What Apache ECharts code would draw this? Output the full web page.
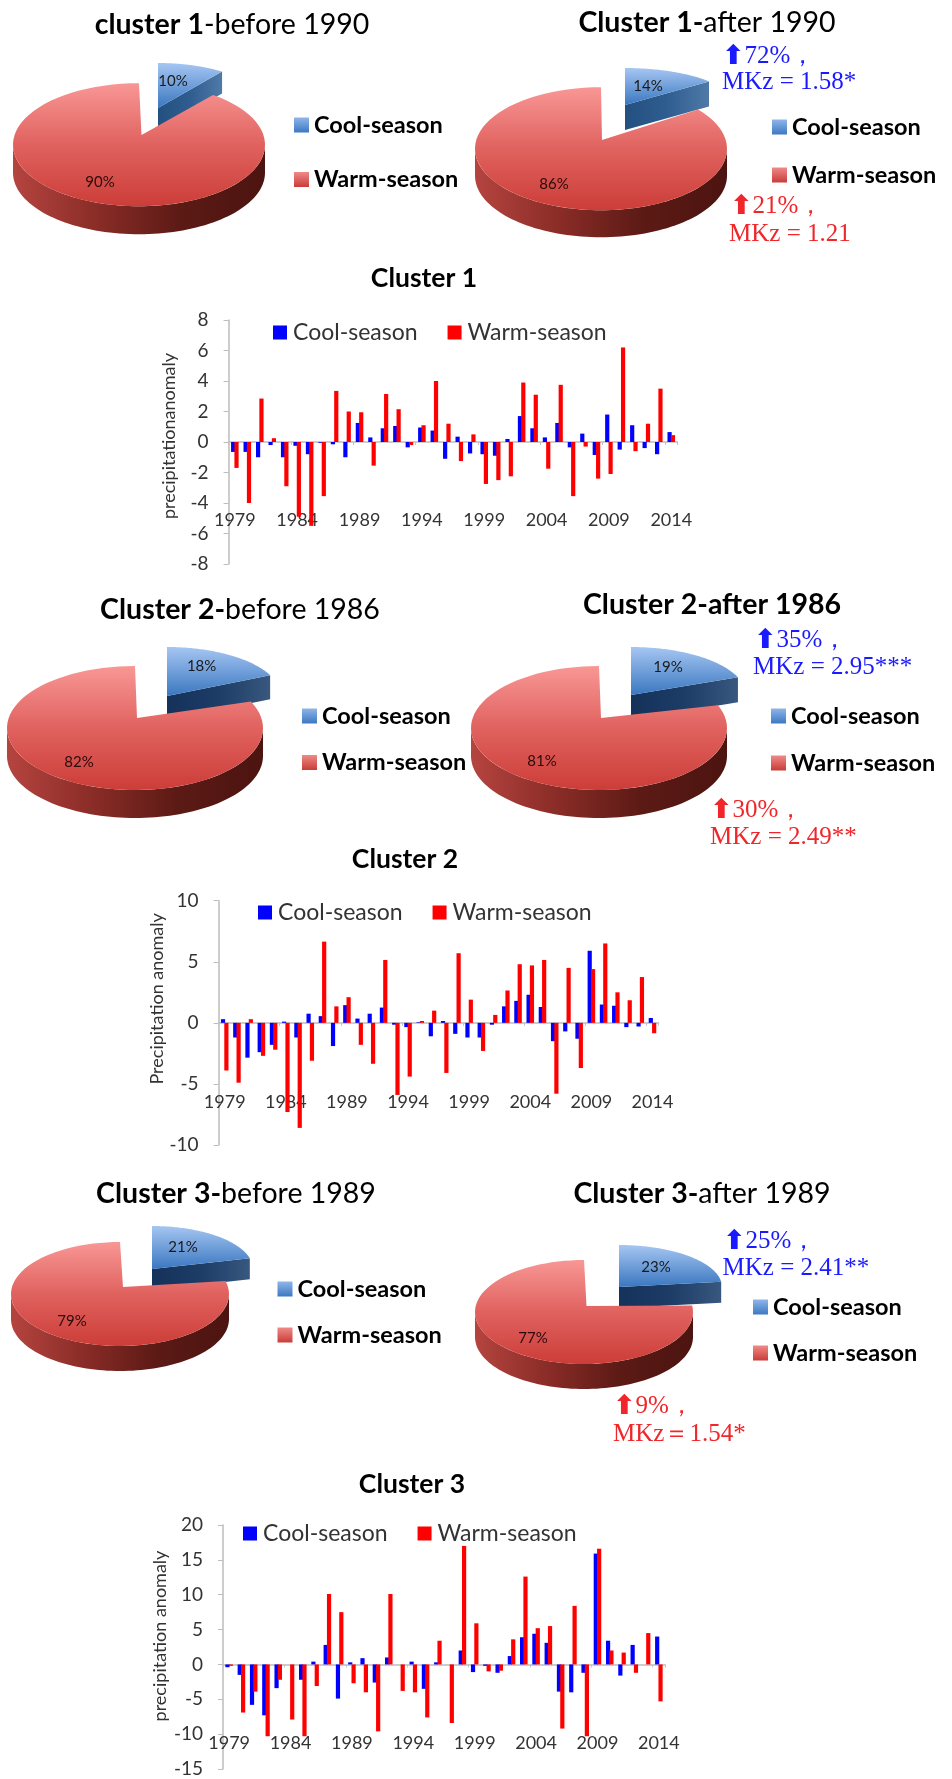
<!DOCTYPE html>
<html><head><meta charset="utf-8">
<style>html,body{margin:0;padding:0;background:#fff}#c{width:952px;height:1779px}</style>
<script src="https://cdn.jsdelivr.net/npm/echarts@6/dist/echarts.min.js"></script>
</head><body><div id="c"></div>
<script>
// ---------- data ----------
const years = [1979,1980,1981,1982,1983,1984,1985,1986,1987,1988,1989,1990,1991,1992,1993,1994,1995,1996,1997,1998,1999,2000,2001,2002,2003,2004,2005,2006,2007,2008,2009,2010,2011,2012,2013,2014].map(String);
const c1Cool = [-0.65,-0.65,-1.0,-0.2,-1.0,-0.25,-0.8,-0.05,-0.15,-1.0,1.25,0.3,0.9,1.05,-0.35,0.95,0.75,-1.1,0.35,-0.75,-0.8,-0.9,0.2,1.7,0.9,0.3,1.25,-0.35,0.55,-0.85,1.8,-0.5,1.1,-0.4,-0.8,0.65];
const c1Warm = [-1.7,-4.0,2.85,0.25,-2.9,-4.9,-5.5,-3.55,3.35,2.0,1.95,-1.55,3.15,2.15,-0.2,1.1,4.0,1.2,-1.25,0.5,-2.75,-2.5,-2.25,3.9,3.1,-1.75,3.75,-3.55,-0.3,-2.4,-2.1,6.2,-0.6,1.2,3.5,0.45];
const c2Cool = [0.3,-1.2,-2.85,-2.4,-1.8,0.1,-1.2,0.75,0.55,-1.9,1.45,0.35,0.75,1.25,-0.15,-0.35,0.05,-1.1,0.15,-0.9,-1.2,-1.2,-0.15,1.35,1.8,2.3,1.3,-1.5,-0.7,-1.3,5.9,1.5,1.4,-0.35,-0.3,0.4];
const c2Warm = [-3.9,-4.9,0.3,-2.7,-2.2,-7.3,-8.6,-3.1,6.65,1.35,2.1,-1.8,-3.35,5.15,-5.9,-4.4,0.15,1.0,-4.1,5.7,1.9,-2.3,0.65,2.65,4.8,4.7,5.15,-5.8,4.5,-3.7,4.4,6.5,2.5,1.85,3.75,-0.85];
const c3Cool = [-0.4,-1.5,-5.8,-7.3,-3.4,0,-2.2,0.4,2.8,-4.9,0.3,0.9,-2.6,1,0,0.4,-3.5,0.3,0,2,-1.1,-0.2,-1.2,1.2,3.9,4.4,3.1,-3.9,-4,-1.2,15.9,3.4,-1.6,2.8,0,4];
const c3Warm = [-0.2,-6.9,-3.9,-10.3,-2.2,-7.9,-10.3,-3.1,10.1,7.5,-2.7,-4,-9.6,10.1,-3.8,-4,-7.6,3.4,-8.4,17,5.9,-1,-0.9,3.6,12.6,5.2,5.5,-9.2,8.4,-10.3,16.6,2,1.7,-1.2,4.5,-5.3];
const coolShare = [10,14,18,19,21,23];
const warmShare = [90,86,82,81,79,77];
const COOL = 'Cool-season', WARM = 'Warm-season';

const FONT = 'Lato', SERIF = '"Liberation Serif"';
const G = (x2,y2,stops)=>new echarts.graphic.LinearGradient(0,0,x2,y2,stops.map((c,i)=>({offset:i/(stops.length-1),color:c})));

// ---------- layout ----------
const barCharts = [
 {title:'Cluster 1',tx:424,ty:278,cool:c1Cool,warm:c1Warm,left:228.6,top:320,right:677.5,bottom:564,min:-8,max:8,step:2,margin:-53,name:'precipitationanomaly',nameGap:50,namePad:[0,0,0,12],lx:273,ly:321},
 {title:'Cluster 2',tx:405,ty:859,cool:c2Cool,warm:c2Warm,left:218.6,top:900.7,right:658.6,bottom:1145,min:-10,max:10,step:5,margin:-52,name:'Precipitation anomaly',nameGap:52,namePad:[0,0,0,48],lx:258,ly:901},
 {title:'Cluster 3',tx:412,ty:1484,cool:c3Cool,warm:c3Warm,left:223,top:1525,right:665,bottom:1769,min:-15,max:20,step:5,margin:-35,name:'precipitation anomaly',nameGap:54,namePad:[0,0,0,22],lx:243,ly:1522}
];
const lightSide=['#23507f','#2f5d90','#4f7aa8'], darkSide=['#14325a','#1d3c66','#38587f'];
const pies = [
 {cx:139,cy:144.7,rx:126,ry:61.5,d:28,ax:141.5,ay:135,bx:158,by:108,brx:109,bry:45,bd:22,bs:lightSide,cl:[173,81],wl:[100,182],leg:[294,116,51.5]},
 {cx:601,cy:148.7,rx:126,ry:61.5,d:27,ax:602,ay:140,bx:625,by:105,brx:109,bry:37,bd:25,bs:lightSide,cl:[648,86],wl:[554,184],leg:[772,118,45]},
 {cx:135,cy:728,rx:128,ry:62,d:28,ax:137,ay:718,bx:167,by:696,brx:114,bry:49,bd:24,bs:darkSide,cl:[201.6,666],wl:[79,762],leg:[302,707,43.5]},
 {cx:599,cy:728,rx:128,ry:62,d:28,ax:601,ay:718,bx:631,by:695,brx:115,bry:48,bd:25,bs:darkSide,cl:[668,667],wl:[542,761],leg:[771,707,44]},
 {cx:120,cy:1294,rx:109,ry:52,d:25,ax:123,ay:1287,bx:152,by:1269,brx:101,bry:43,bd:21,bs:darkSide,cl:[183,1247],wl:[72,1321],leg:[277.5,1280,43]},
 {cx:584,cy:1312,rx:109,ry:52,d:25,ax:586.5,ay:1306,bx:619,by:1287,brx:103,bry:42,bd:21,bs:darkSide,cl:[656,1267],wl:[533,1338],leg:[753,1298,43]}
];
const pieTitles = [
 {x:232,y:25,b:'cluster 1',n:'-before 1990'},
 {x:707,y:23,b:'Cluster 1-',n:'after 1990'},
 {x:240,y:610,b:'Cluster 2-',n:'before 1986'},
 {x:712,y:605,b:'Cluster 2-after 1986',n:''},
 {x:236,y:1194,b:'Cluster 3-',n:'before 1989'},
 {x:702,y:1194,b:'Cluster 3-',n:'after 1989'}
];
const notes = [
 {x:722,y:58,color:'#1a1aff',a:'72%，'},{x:722,y:85,color:'#1a1aff',t:'MKz = 1.58*'},
 {x:730,y:208,color:'#f0262a',a:'21%，'},{x:729,y:237,color:'#f0262a',t:'MKz = 1.21'},
 {x:754,y:642,color:'#1a1aff',a:'35%，'},{x:753,y:670,color:'#1a1aff',t:'MKz = 2.95***'},
 {x:710,y:812,color:'#f0262a',a:'30%，'},{x:710,y:840,color:'#f0262a',t:'MKz = 2.49**'},
 {x:723,y:1243,color:'#1a1aff',a:'25%，'},{x:722.5,y:1271,color:'#1a1aff',t:'MKz = 2.41**'},
 {x:613,y:1408,color:'#f0262a',a:'9%，'},{x:613,y:1437,color:'#f0262a',t:'MKz＝1.54*'}
];

// ---------- option ----------
const arc=(cx,cy,rx,ry,a0,a1,n=80)=>{const p=[];for(let i=0;i<=n;i++){const a=(a0+(a1-a0)*i/n)*Math.PI/180;p.push([cx+rx*Math.sin(a),cy-ry*Math.cos(a)]);}return p;};
const swatchCool=G(0,1,['#8fb6ea','#3c78c2']), swatchWarm=G(0,1,['#f08a88','#c83c38']);
const option={animation:false,backgroundColor:'#fff',title:[],legend:[],grid:[],xAxis:[],yAxis:[],series:[],graphic:[]};

pieTitles.forEach(t=>option.title.push({text:(t.b?`{b|${t.b}}`:'')+(t.n?`{n|${t.n}}`:''),left:t.x,top:t.y-18,textAlign:'center',padding:0,
  textStyle:{rich:{b:{fontFamily:FONT,fontSize:28.5,fontWeight:'bold',color:'#000',lineHeight:36},n:{fontFamily:FONT,fontSize:28.5,fontWeight:'normal',color:'#000',lineHeight:36}}}}));

barCharts.forEach((b,i)=>{
  option.title.push({text:b.title,left:b.tx,top:b.ty-14,textAlign:'center',padding:0,textStyle:{fontFamily:FONT,fontSize:26.5,fontWeight:'bold',color:'#000',lineHeight:28}});
  option.grid.push({left:b.left,top:b.top,width:b.right-b.left,height:b.bottom-b.top,containLabel:false,outerBoundsMode:'none'});
  option.xAxis.push({type:'category',gridIndex:i,data:years,axisLine:{onZero:true,lineStyle:{color:'#bdbdbd',width:1.5}},axisTick:{show:true,length:3,lineStyle:{color:'#c4c4c4'}},
    axisLabel:{interval:4,margin:b.margin,fontFamily:FONT,fontSize:18,color:'#333',hideOverlap:false},splitLine:{show:false}});
  option.yAxis.push({type:'value',gridIndex:i,min:b.min,max:b.max,interval:b.step,name:b.name,nameLocation:'middle',nameGap:b.nameGap,nameRotate:90,nameMoveOverlap:false,
    nameTextStyle:{fontFamily:FONT,fontSize:18,color:'#333',padding:b.namePad},
    axisLine:{show:true,onZero:false,lineStyle:{color:'#bdbdbd',width:1.5}},axisTick:{show:true,length:5,lineStyle:{color:'#bdbdbd'}},
    axisLabel:{margin:20,fontFamily:FONT,fontSize:19,color:'#333'},splitLine:{show:false}});
  option.series.push({name:COOL,type:'bar',xAxisIndex:i,yAxisIndex:i,data:b.cool,barWidth:4.2,barGap:'-20%',itemStyle:{color:'#0000ff'}});
  option.series.push({name:WARM,type:'bar',xAxisIndex:i,yAxisIndex:i,data:b.warm,barWidth:4.2,barGap:'-20%',itemStyle:{color:'#ff0000'}});
  option.legend.push({left:b.lx,top:b.ly,orient:'horizontal',padding:0,icon:'rect',itemWidth:14,itemHeight:14,itemGap:30,selectedMode:false,data:[COOL,WARM],
    textStyle:{fontFamily:FONT,fontSize:23,color:'#333',padding:[0,0,0,1]}});
});

pies.forEach((p,i)=>{
  option.legend.push({left:p.leg[0],top:p.leg[1]-3,orient:'vertical',padding:0,icon:'rect',itemWidth:15,itemHeight:15,itemGap:p.leg[2]-21,selectedMode:false,
    data:[{name:COOL,itemStyle:{color:swatchCool}},{name:WARM,itemStyle:{color:swatchWarm}}],
    textStyle:{fontFamily:FONT,fontSize:23.5,fontWeight:'bold',color:'#000',lineHeight:21}});
  option.series.push({type:'custom',name:'pie'+(i+1),coordinateSystem:'none',silent:true,data:[[coolShare[i],warmShare[i]]],
    renderItem:(params,api)=>{
      const c=api.value(0),w=api.value(1),A=c/(c+w)*360;
      const bArc=arc(p.bx,p.by,p.brx,p.bry,0,A);
      const R=bArc[bArc.length-1];
      const children=[];
      // cool slice: cut face then top
      children.push({type:'polygon',shape:{points:[[p.bx,p.by],R,[R[0],R[1]+p.bd],[p.bx,p.by+p.bd]]},style:{fill:G(1,0,p.bs)}});
      children.push({type:'polygon',shape:{points:[[p.bx,p.by],...bArc]},style:{fill:G(0,1,['#a6c6f2','#3a77c0'])}});
      // warm slice: rim then top
      const front=arc(p.cx,p.cy,p.rx,p.ry,90,270);
      const lower=front.map(q=>[q[0],q[1]+p.d]).reverse();
      children.push({type:'polygon',shape:{points:[...front,...lower]},style:{fill:G(1,0,['#b5443f','#8a2c27','#5c1a15','#4c1410'])}});
      children.push({type:'polygon',shape:{points:[[p.ax,p.ay],...arc(p.cx,p.cy,p.rx,p.ry,A,360)]},style:{fill:G(0,1,['#f89795','#e0625f','#cc3d38'])}});
      children.push({type:'text',x:p.cl[0],y:p.cl[1],style:{text:c+'%',fontFamily:FONT,fontSize:15,fill:'#1a1a1a',align:'center',verticalAlign:'middle'}});
      children.push({type:'text',x:p.wl[0],y:p.wl[1],style:{text:w+'%',fontFamily:FONT,fontSize:15,fill:'#2a0a0a',align:'center',verticalAlign:'middle'}});
      return {type:'group',children};
    }});
});

notes.forEach(n=>{
  const arrow=!!n.a;
  option.graphic.push({type:'text',left:n.x,top:n.y-15,silent:true,style:{
    text:arrow?`{a|⬆}{t|${n.a}}`:`{t|${n.t}}`,
    rich:{a:{fontFamily:'"DejaVu Sans"',fontWeight:'bold',fontSize:27,fill:n.color,lineHeight:30},t:{fontFamily:SERIF,fontSize:25,fill:n.color,lineHeight:30}}}});
});

const chart=echarts.init(document.getElementById('c'),null,{renderer:'canvas'});
chart.setOption(option);
</script></body></html>
